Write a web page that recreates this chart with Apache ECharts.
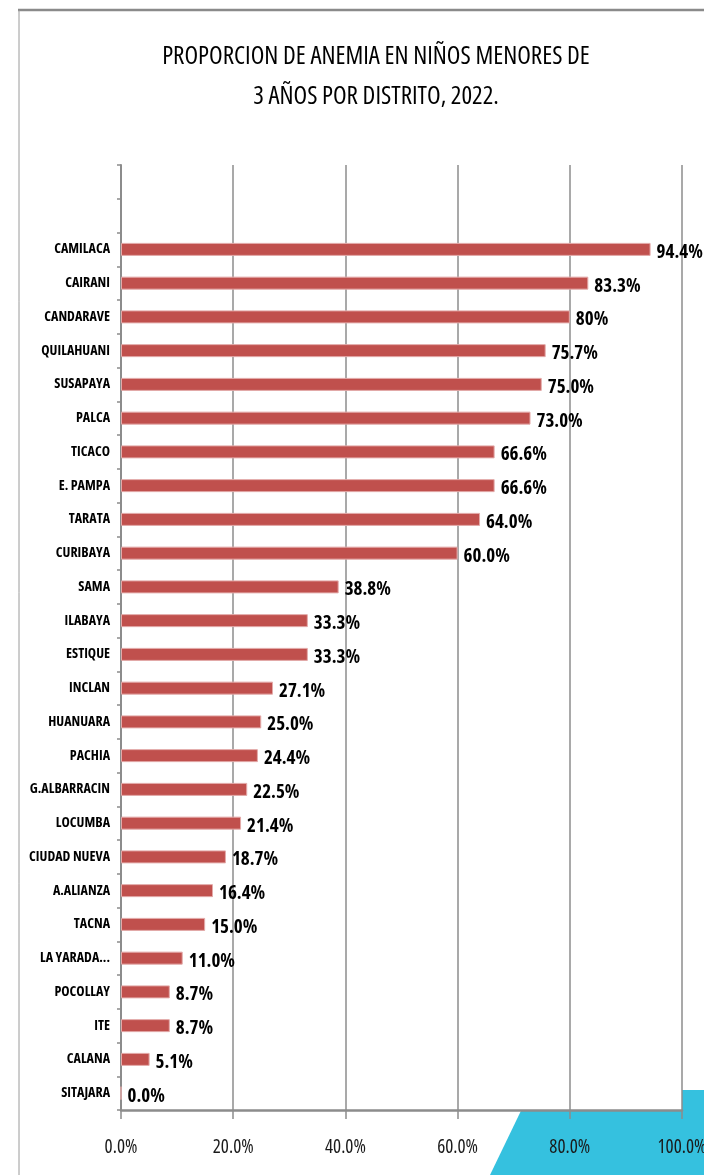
<!DOCTYPE html>
<html>
<head>
<meta charset="utf-8">
<script src="https://cdn.jsdelivr.net/npm/echarts@6/dist/echarts.min.js"></script>
<style>
html,body{margin:0;padding:0;background:#fff;overflow:hidden;}
#chart{width:704px;height:1175px;}
</style>
</head>
<body>
<div id="chart"></div>
<script>
const titleText = 'PROPORCION DE ANEMIA EN NIÑOS MENORES DE\n3 AÑOS POR DISTRITO, 2022.';
const categories = ['CAMILACA','CAIRANI','CANDARAVE','QUILAHUANI','SUSAPAYA','PALCA','TICACO','E. PAMPA','TARATA','CURIBAYA','SAMA','ILABAYA','ESTIQUE','INCLAN','HUANUARA','PACHIA','G.ALBARRACIN','LOCUMBA','CIUDAD NUEVA','A.ALIANZA','TACNA','LA YARADA...','POCOLLAY','ITE','CALANA','SITAJARA'];
const values = [94.4,83.3,80,75.7,75.0,73.0,66.6,66.6,64.0,60.0,38.8,33.3,33.3,27.1,25.0,24.4,22.5,21.4,18.7,16.4,15.0,11.0,8.7,8.7,5.1,0.0];
const valueLabels = ['94.4%','83.3%','80%','75.7%','75.0%','73.0%','66.6%','66.6%','64.0%','60.0%','38.8%','33.3%','33.3%','27.1%','25.0%','24.4%','22.5%','21.4%','18.7%','16.4%','15.0%','11.0%','8.7%','8.7%','5.1%','0.0%'];
const xTickLabels = ['0.0%','20.0%','40.0%','60.0%','80.0%','100.0%'];
const emptySlots = ['', ' '];

const FONT = '"Open Sans", "Roboto", sans-serif';
const STRETCH = 'condensed';
const chart = echarts.init(document.getElementById('chart'), null, {renderer: 'canvas', width: 704, height: 1175});
const axisData = emptySlots.concat(categories);
const seriesData = emptySlots.map(() => '-').concat(values);

chart.setOption({
  animation: false,
  backgroundColor: '#ffffff',
  title: {
    text: titleText,
    left: 371,
    top: 32,
    textAlign: 'center',
    textStyle: {fontFamily: FONT, fontStyle: STRETCH, fontSize: 25, fontWeight: 500, color: '#000', lineHeight: 40}
  },
  graphic: [
    {type: 'polygon', z: -10, shape: {points: [[531,1090],[704,1090],[704,1175],[490,1175]]}, style: {fill: '#35C1DF'}},
    {type: 'line', shape: {x1: 18, y1: 10, x2: 704, y2: 10}, style: {stroke: '#8a8a8a', lineWidth: 2.5}},
    {type: 'line', shape: {x1: 19, y1: 10, x2: 19, y2: 1175}, style: {stroke: '#9a9a9a', lineWidth: 1}}
  ],
  grid: {left: 121, right: 22, top: 165, bottom: 65, show: true, backgroundColor: '#ffffff', borderWidth: 0, containLabel: false, outerBoundsMode: 'none'},
  xAxis: {
    type: 'value', min: 0, max: 100, interval: 20,
    axisLine: {show: true, lineStyle: {color: '#8c8c8c', width: 2.5}},
    axisTick: {show: true, length: 9, lineStyle: {color: '#8c8c8c', width: 1.5}},
    splitLine: {show: true, lineStyle: {color: '#8c8c8c', width: 1.5}},
    axisLabel: {
      margin: 28, fontFamily: FONT, fontStyle: STRETCH, fontSize: 19, color: '#1a1a1a',
      formatter: (v) => xTickLabels[Math.round(v / 20)]
    }
  },
  yAxis: {
    type: 'category', inverse: true, data: axisData,
    axisLine: {show: true, lineStyle: {color: '#8c8c8c', width: 2}},
    axisTick: {show: true, length: 4, alignWithLabel: false, lineStyle: {color: '#8c8c8c', width: 1.5}},
    axisLabel: {margin: 11, fontFamily: FONT, fontStyle: STRETCH, fontSize: 14, fontWeight: 'bold', color: '#000', interval: 0}
  },
  series: [{
    type: 'bar',
    data: seriesData,
    barWidth: 13,
    itemStyle: {color: '#C0504D', borderColor: '#E3AAA9', borderWidth: 1},
    label: {
      show: true, position: 'right', distance: 6, offset: [0, 3],
      fontFamily: FONT, fontStyle: STRETCH, fontSize: 19, fontWeight: 'bold', color: '#000',
      formatter: (p) => valueLabels[p.dataIndex - emptySlots.length]
    }
  }]
});
</script>
</body>
</html>
